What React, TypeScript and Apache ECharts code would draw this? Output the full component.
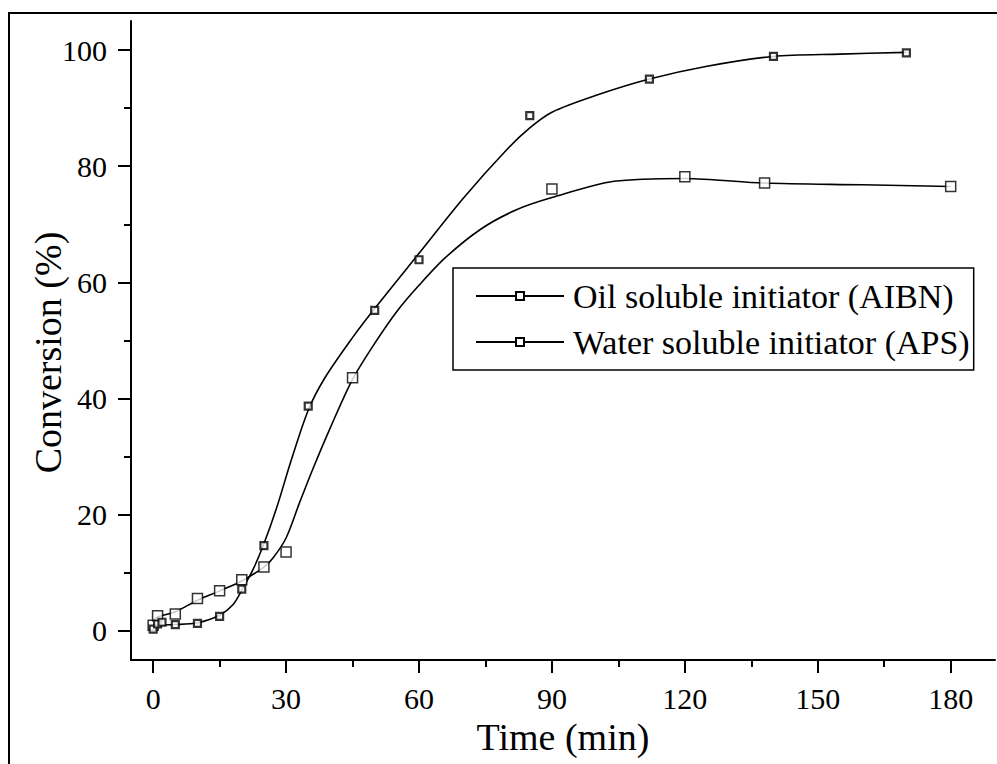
import React, { useEffect, useRef } from "react";
import * as echarts from "echarts";

const aibnTime = [0, 1, 5, 10, 15, 20, 25, 30, 45, 90, 120, 138, 180];
const aibnConv = [1.0, 2.6, 2.9, 5.6, 6.9, 8.8, 11.0, 13.6, 43.6, 76.1, 78.2, 77.1, 76.5];
const apsTime = [0, 1, 2, 5, 10, 15, 20, 25, 35, 50, 60, 85, 112, 140, 170];
const apsConv = [0.3, 1.2, 1.5, 1.1, 1.3, 2.5, 7.2, 14.7, 38.7, 55.2, 63.9, 88.7, 95.0, 98.9, 99.5];

// Fitted curves
const aibnFitTime = [0, 1, 5, 10, 15, 20, 25, 27, 30, 33, 36, 40, 45, 50, 55, 60, 66, 74, 82, 90, 104, 120, 138, 160, 180];
const aibnFitConv = [1.8, 2.4, 3.3, 5.3, 6.9, 8.6, 11.0, 12.5, 16.0, 22.0, 27.8, 35.0, 43.3, 49.5, 55.0, 59.5, 64.3, 69.2, 72.5, 74.6, 77.4, 77.9, 77.1, 76.8, 76.5];
const apsFitTime = [0, 5, 10, 15, 18, 20, 22.5, 25, 28, 31, 35, 38.7, 45, 50, 60, 70, 80, 85, 90, 100, 112, 125, 140, 155, 170];
const apsFitConv = [1.0, 1.1, 1.4, 2.7, 4.5, 7.0, 10.5, 15.0, 21.5, 29.0, 38.0, 43.5, 50.5, 55.5, 65.0, 74.5, 83.0, 86.6, 89.3, 92.2, 95.0, 97.2, 98.9, 99.3, 99.6];

const xMajor = [0, 30, 60, 90, 120, 150, 180];
const xMinor = [15, 45, 75, 105, 135, 165];
const yMajor = [0, 20, 40, 60, 80, 100];
const yMinor = [10, 30, 50, 70, 90];

const AIBN = "Oil soluble initiator (AIBN)";
const APS = "Water soluble initiator (APS)";
const FONT = "'Liberation Serif', 'Times New Roman', Times, serif";

const zip = (a: number[], b: number[]) => a.map((v, i) => [v, b[i]]);

export default function App() {
  const ref = useRef<HTMLDivElement>(null);
  useEffect(() => {
    if (!ref.current) return;
    const chart = echarts.init(ref.current, undefined, { renderer: "svg" });
    const axisLine = { show: true, onZero: false, lineStyle: { color: "#000", width: 2 } };
    const xAxisBase = {
      type: "value" as const,
      min: -5,
      max: 190,
      splitLine: { show: false },
      position: "bottom" as const,
    };
    const yAxisBase = {
      type: "value" as const,
      min: -5,
      max: 105,
      splitLine: { show: false },
      position: "left" as const,
    };
    chart.setOption({
      animation: false,
      backgroundColor: "#fff",
      grid: { left: 131, right: 2, top: 21, bottom: 104 },
      xAxis: [
        {
          ...xAxisBase,
          axisLine,
          axisTick: { show: true, customValues: xMajor, length: 13, lineStyle: { color: "#000", width: 2 } },
          axisLabel: { customValues: xMajor, color: "#000", fontFamily: FONT, fontSize: 30, margin: 23 },
          name: "Time (min)",
          nameLocation: "middle",
          nameGap: 58,
          nameMoveOverlap: false,
          nameTextStyle: { color: "#000", fontFamily: FONT, fontSize: 38 },
        },
        {
          ...xAxisBase,
          axisLine: { show: false, onZero: false },
          axisTick: { show: true, customValues: xMinor, length: 7, lineStyle: { color: "#000", width: 2 } },
          axisLabel: { show: false },
        },
      ],
      yAxis: [
        {
          ...yAxisBase,
          axisLine,
          axisTick: { show: true, customValues: yMajor, length: 13, lineStyle: { color: "#000", width: 2 } },
          axisLabel: { customValues: yMajor, color: "#000", fontFamily: FONT, fontSize: 30, margin: 24 },
          name: "Conversion (%)",
          nameLocation: "middle",
          nameGap: 64,
          nameMoveOverlap: false,
          nameTextStyle: { color: "#000", fontFamily: FONT, fontSize: 38, padding: [0, 24, 0, 0] },
        },
        {
          ...yAxisBase,
          axisLine: { show: false, onZero: false },
          axisTick: { show: true, customValues: yMinor, length: 7, lineStyle: { color: "#000", width: 2 } },
          axisLabel: { show: false },
        },
      ],
      legend: {
        data: [AIBN, APS],
        orient: "vertical",
        left: 453,
        top: 268,
        padding: [10, 4, 10, 22],
        itemGap: 10,
        itemWidth: 88,
        itemHeight: 10,
        borderColor: "#000",
        borderWidth: 1.5,
        backgroundColor: "#fff",
        textStyle: { color: "#000", fontFamily: FONT, fontSize: 34, lineHeight: 36, padding: [0, 0, 0, 4] },
      },
      series: [
        {
          name: AIBN,
          type: "line",
          data: zip(aibnFitTime, aibnFitConv),
          smooth: 0.3,
          showSymbol: false,
          symbol: "rect",
          symbolSize: 10,
          lineStyle: { color: "#000", width: 1.6 },
          itemStyle: { color: "#fff", borderColor: "#000", borderWidth: 1.5 },
          z: 2,
        },
        {
          name: APS,
          type: "line",
          data: zip(apsFitTime, apsFitConv),
          smooth: 0.3,
          showSymbol: false,
          symbol: "rect",
          symbolSize: 7,
          lineStyle: { color: "#000", width: 1.6 },
          itemStyle: { color: "#fff", borderColor: "#000", borderWidth: 2 },
          z: 2,
        },
        {
          name: "AIBN points",
          type: "scatter",
          data: zip(aibnTime, aibnConv),
          symbol: "rect",
          symbolSize: 10,
          itemStyle: { color: "#fff", borderColor: "#000", borderWidth: 1.5 },
          z: 3,
        },
        {
          name: "APS points",
          type: "scatter",
          data: zip(apsTime, apsConv),
          symbol: "rect",
          symbolSize: 7,
          itemStyle: { color: "#fff", borderColor: "#000", borderWidth: 2.2 },
          z: 4,
        },
      ],
      graphic: [
        {
          type: "rect",
          shape: { x: 9, y: 13, width: 1000, height: 800 },
          style: { fill: "none", stroke: "#000", lineWidth: 2 },
          silent: true,
        },
      ],
    });
    return () => chart.dispose();
  }, []);
  return (
    <div
      ref={ref}
      style={{ position: "fixed", left: 0, top: 0, width: 997, height: 764, background: "#fff" }}
    />
  );
}
